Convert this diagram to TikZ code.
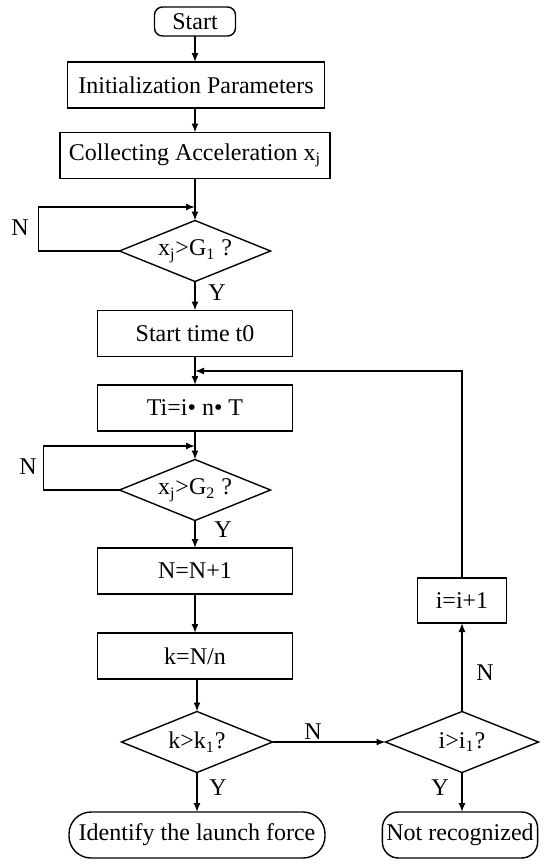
\documentclass[tikz,border=0pt]{standalone}
\usepackage{fontspec}
\setmainfont{Liberation Serif}
\usetikzlibrary{shapes.geometric,arrows.meta}
\begin{document}
\begin{tikzpicture}[x=0.5pt, y=-0.5pt, font=\fontsize{12}{14}\selectfont, line width=0.7pt,
	every node/.style={inner sep=2pt, outer sep=0pt},
	proc/.style={draw, rectangle, minimum height=23pt},
	term/.style={draw, rectangle, rounded corners=#1, minimum height=23pt},
	cond/.style={draw, diamond, shape aspect=2.5, inner sep=0pt, minimum width=75.5pt, minimum height=30.5pt},
	arr/.style={-{Latex[length=4.5pt,width=3.5pt]}}]
	\useasboundingbox (0,0) rectangle (550,867);
	
	% Cột chính
	\node[term=4pt, minimum width=40.5pt, minimum height=14.5pt] (start) at (195, 21.5) {Start};
	\node[proc, minimum width=128.5pt] (init) at (196, 85) {Initialization Parameters};
	\node[proc, minimum width=135pt] (coll) at (195, 155.5) {Collecting Acceleration x\textsubscript{j}};
	\node[cond] (d1) at (195, 251) {x\textsubscript{j}>G\textsubscript{1} ?};
	\node[proc, minimum width=97.5pt] (t0) at (195, 333.5) {Start time t0};
	\node[proc, minimum width=97.5pt] (ti) at (195, 408) {Ti=i\textbullet{} n\textbullet{} T};
	\node[cond] (d2) at (195, 490) {x\textsubscript{j}>G\textsubscript{2} ?};
	\node[proc, minimum width=97.5pt] (inc) at (195, 571) {N=N+1};
	\node[proc, minimum width=97.5pt] (k) at (195, 656) {k=N/n};
	\node[cond] (d3) at (197, 742) {k>k\textsubscript{1}?};
	\node[term=11pt, minimum width=128pt] (found) at (197, 835) {Identify the launch force};
	
	% Cột phải
	\node[cond, minimum width=76.5pt] (d4) at (462, 742) {i>i\textsubscript{1}?};
	\node[proc, minimum width=44.5pt, minimum height=22.5pt] (incI) at (462, 600.5) {i=i+1};
	\node[term=8pt, minimum width=77.5pt] (nores) at (460, 835) {Not recognized};
	
	\coordinate (j1) at (195, 207);
	\coordinate (j2) at (195, 446);
	\coordinate (jt) at (195, 371);
	
	% Mũi tên
	\draw[arr] (start) -- (start |- init.north);
	\draw[arr] (init.south -| coll) -- (coll);
	\draw[arr] (coll) -- (d1);
	\draw[arr] (d1) -- (t0);
	\draw[arr] (t0) -- (ti);
	\draw[arr] (ti) -- (d2);
	\draw[arr] (d2) -- (inc);
	\draw[arr] (inc) -- (k);
	\draw[arr] (d3 |- k.south) -- (d3);
	\draw[arr] (d3) -- (found);
	\draw[arr] (d3) -- (d4);
	\draw[arr] (d4) -- (incI);
	\draw[arr] (d4.south) -- (d4.south |- nores.north);
	\draw[arr] (incI) |- (jt);
	\draw[arr] (d1.west) -- ++(-81, 0) |- (j1);
	\draw[arr] (d2.west) -- ++(-76, 0) |- (j2);
	
	% Nhãn
	\node (n1) at (20, 228) {N};
	\node (y1) at (217, 293) {Y};
	\node (n2) at (28, 467) {N};
	\node (y2) at (223, 530) {Y};
	\node (y3) at (218, 788) {Y};
	\node (n3) at (313, 732) {N};
	\node (y4) at (440, 788) {Y};
	\node (n4) at (485, 673) {N};
\end{tikzpicture}
\end{document}
